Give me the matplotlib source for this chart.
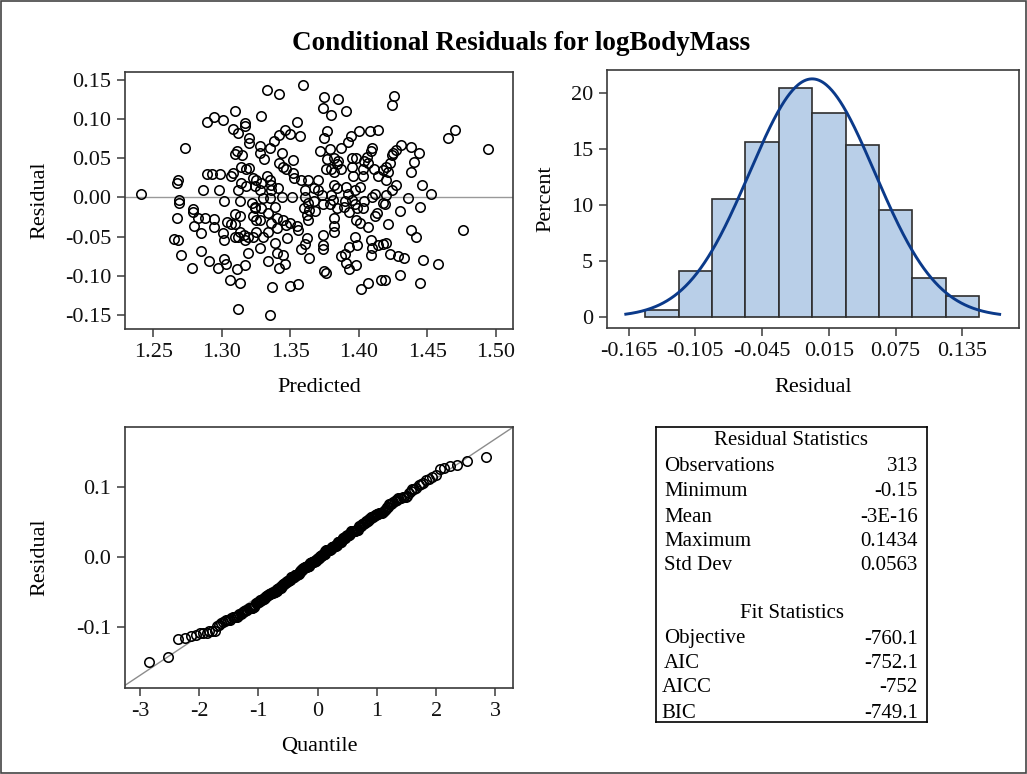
import numpy as np
import matplotlib
matplotlib.use("Agg")
import matplotlib.pyplot as plt
from matplotlib.patches import Rectangle
from statistics import NormalDist

# ---------------- data ----------------
predicted = [
    1.310, 1.294, 1.289, 1.301, 1.317, 1.317, 1.308, 1.312, 1.320, 1.320,
    1.273, 1.311, 1.310, 1.315, 1.314, 1.318, 1.320, 1.289, 1.293, 1.299,
    1.308, 1.307, 1.268, 1.267, 1.323, 1.314, 1.318, 1.324, 1.286, 1.298,
    1.312, 1.241,
    1.269, 1.269, 1.302, 1.313, 1.322, 1.279, 1.279, 1.267, 1.283, 1.288,
    1.294, 1.310, 1.313, 1.324, 1.323, 1.325, 1.304, 1.307, 1.310, 1.280,
    1.294, 1.285, 1.301, 1.313, 1.316, 1.310, 1.312, 1.317, 1.319, 1.323,
    1.325, 1.302, 1.265, 1.268, 1.328, 1.270, 1.285, 1.319, 1.291, 1.302,
    1.303, 1.297, 1.311, 1.317, 1.278, 1.306, 1.313, 1.312,
    1.359, 1.333, 1.342, 1.375, 1.385, 1.374, 1.380, 1.391, 1.329, 1.355,
    1.346, 1.342, 1.350, 1.357, 1.338, 1.335, 1.328, 1.328, 1.331, 1.377,
    1.375, 1.400, 1.408, 1.414, 1.394, 1.392, 1.372, 1.379, 1.387, 1.410,
    1.409, 1.344, 1.352, 1.342, 1.345, 1.347, 1.377, 1.382, 1.385, 1.376,
    1.380, 1.384, 1.382, 1.387, 1.395, 1.398, 1.406, 1.404, 1.407, 1.403,
    1.395, 1.396, 1.403, 1.411, 1.414, 1.418, 1.420, 1.333, 1.335, 1.329,
    1.336, 1.325, 1.352, 1.353, 1.358, 1.363, 1.370, 1.361, 1.367, 1.370,
    1.373, 1.380, 1.382, 1.384, 1.391, 1.392, 1.397, 1.401, 1.412, 1.420,
    1.328, 1.336, 1.341, 1.344, 1.351, 1.330, 1.335,
    1.361, 1.363, 1.367, 1.360, 1.364, 1.368, 1.362, 1.363, 1.374, 1.379,
    1.381, 1.384, 1.389, 1.390, 1.395, 1.393, 1.397, 1.399, 1.403, 1.404,
    1.410, 1.413, 1.412, 1.418, 1.324, 1.329, 1.328, 1.334, 1.339, 1.340,
    1.336, 1.345, 1.347, 1.350, 1.355, 1.356, 1.330, 1.334, 1.340, 1.348,
    1.362, 1.374, 1.382, 1.382, 1.382, 1.398, 1.401, 1.407, 1.397, 1.409,
    1.339, 1.340, 1.345, 1.358, 1.361, 1.364, 1.374, 1.374, 1.387, 1.390,
    1.393, 1.399, 1.410, 1.414, 1.418, 1.409, 1.334, 1.342, 1.346, 1.375,
    1.376, 1.391, 1.398, 1.393, 1.337, 1.350, 1.356, 1.402, 1.407, 1.416,
    1.335,
    1.426, 1.424, 1.465, 1.470, 1.494, 1.431, 1.427, 1.425, 1.424, 1.438,
    1.444, 1.440, 1.438, 1.423, 1.421, 1.420, 1.427, 1.424, 1.446, 1.453,
    1.436,
    1.419, 1.430, 1.445, 1.421, 1.438, 1.442, 1.476, 1.420, 1.423, 1.429,
    1.433, 1.447, 1.458, 1.419, 1.430, 1.445,
]
residual = [
    0.110, 0.103, 0.097, 0.099, 0.095, 0.091, 0.088, 0.082, 0.076, 0.069,
    0.063, 0.059, 0.055, 0.054, 0.039, 0.037, 0.038, 0.030, 0.030, 0.030,
    0.031, 0.028, 0.022, 0.018, 0.025, 0.018, 0.015, 0.015, 0.010, 0.010,
    0.009, 0.005,
    -0.003, -0.007, -0.004, -0.005, -0.007, -0.015, -0.018, -0.026, -0.026, -0.026,
    -0.028, -0.021, -0.024, -0.014, -0.024, -0.029, -0.031, -0.034, -0.034, -0.036,
    -0.038, -0.046, -0.046, -0.044, -0.048, -0.051, -0.051, -0.054, -0.051, -0.050,
    -0.044, -0.055, -0.053, -0.055, -0.064, -0.073, -0.069, -0.071, -0.081, -0.079,
    -0.085, -0.090, -0.091, -0.086, -0.090, -0.105, -0.109, -0.142,
    0.1434, 0.137, 0.132, 0.128, 0.126, 0.115, 0.106, 0.111, 0.104, 0.097,
    0.086, 0.080, 0.081, 0.079, 0.072, 0.063, 0.066, 0.057, 0.049, 0.085,
    0.076, 0.085, 0.085, 0.086, 0.078, 0.071, 0.060, 0.062, 0.063, 0.063,
    0.060, 0.057, 0.048, 0.044, 0.039, 0.037, 0.049, 0.051, 0.047, 0.037,
    0.037, 0.043, 0.032, 0.037, 0.051, 0.050, 0.052, 0.047, 0.044, 0.037,
    0.039, 0.028, 0.028, 0.037, 0.027, 0.035, 0.039, 0.028, 0.022, 0.018,
    0.016, 0.022, 0.031, 0.025, 0.022, 0.022, 0.022, 0.010, 0.012, 0.010,
    0.003, 0.003, 0.016, 0.012, 0.014, 0.005, 0.010, 0.014, 0.005, 0.003,
    0.010, 0.010, 0.012, 0.001, 0.001, -0.001, -0.001,
    0.000, -0.007, -0.005, -0.014, -0.016, -0.017, -0.022, -0.029, -0.009, -0.009,
    -0.003, -0.014, -0.012, -0.005, -0.003, -0.018, -0.009, -0.013, -0.014, -0.005,
    0.001, -0.020, -0.024, -0.007, -0.012, -0.014, -0.029, -0.020, -0.012, -0.026,
    -0.033, -0.029, -0.035, -0.033, -0.037, -0.041, -0.050, -0.044, -0.039, -0.052,
    -0.052, -0.048, -0.044, -0.037, -0.026, -0.029, -0.033, -0.038, -0.050, -0.054,
    -0.058, -0.071, -0.073, -0.066, -0.060, -0.077, -0.061, -0.066, -0.075, -0.072,
    -0.063, -0.061, -0.064, -0.061, -0.060, -0.073, -0.081, -0.090, -0.085, -0.094,
    -0.097, -0.084, -0.087, -0.092, -0.115, -0.113, -0.111, -0.117, -0.109, -0.106,
    -0.150,
    0.130, 0.118, 0.076, 0.086, 0.062, 0.067, 0.061, 0.057, 0.054, 0.064,
    0.057, 0.045, 0.032, 0.044, 0.033, 0.022, 0.016, 0.010, 0.016, 0.005,
    -0.001,
    -0.009, -0.017, -0.012, -0.034, -0.041, -0.050, -0.041, -0.058, -0.072, -0.075,
    -0.077, -0.080, -0.085, -0.105, -0.099, -0.109,
]

bin_centers = [-0.135, -0.105, -0.075, -0.045, -0.015, 0.015, 0.045, 0.075, 0.105, 0.135]
bin_percent = [0.64, 4.15, 10.54, 15.65, 20.45, 18.21, 15.34, 9.58, 3.51, 1.92]

resid_mean = -3e-16
resid_sd = 0.0563

stat_labels = ["Observations", "Minimum", "Mean", "Maximum", "Std Dev"]
stat_values = ["313", "-0.15", "-3E-16", "0.1434", "0.0563"]
fit_labels = ["Objective", "AIC", "AICC", "BIC"]
fit_values = ["-760.1", "-752.1", "-752", "-749.1"]

# ---------------- figure ----------------
plt.rcParams['font.family'] = ['Liberation Serif', 'DejaVu Serif']
plt.rcParams['axes.unicode_minus'] = False
W, H = 1027, 774
fig = plt.figure(figsize=(W / 100, H / 100), dpi=100)

FRAME = '#3a3a3a'
TICKFS = 16
LABFS = 16


def ax_px(l, t, r, b):
    return fig.add_axes([l / W, 1 - b / H, (r - l) / W, (b - t) / H])


def style(ax):
    for s in ax.spines.values():
        s.set_color(FRAME)
        s.set_linewidth(1.2)
    ax.tick_params(direction='out', length=6, width=1.1, color=FRAME,
                   labelsize=TICKFS, pad=4, labelcolor='#111111')


fig.text(521 / W, 1 - 44 / H, "Conditional Residuals for logBodyMass",
         ha='center', va='center', fontsize=19.5, fontweight='bold')

MS = 6.8
MEW = 1.15

# --- residual vs predicted ---
ax1 = ax_px(125, 72, 513, 329)
style(ax1)
ax1.axhline(0, color='#999999', lw=1.0, zorder=1)
ax1.plot(predicted, residual, 'o', ms=MS, mfc='none', mec='black', mew=MEW, zorder=3)
ax1.set_xlim(1.2294, 1.5126)
ax1.set_ylim(-0.1682, 0.1604)
xt = np.round(np.arange(1.25, 1.5001, 0.05), 2)
ax1.set_xticks(xt)
ax1.set_xticklabels([f"{v:.2f}" for v in xt])
yt = np.round(np.arange(-0.15, 0.1501, 0.05), 2)
ax1.set_yticks(yt)
ax1.set_yticklabels([f"{v:.2f}".replace("-0.00", "0.00") for v in yt])
ax1.set_xlabel("Predicted", fontsize=LABFS, va='center')
ax1.xaxis.set_label_coords(0.5, (329 - 388) / (329 - 72))
ax1.set_ylabel("Residual", fontsize=LABFS, va='center')
ax1.yaxis.set_label_coords((40 - 125) / (513 - 125), 0.5)

# --- histogram ---
ax2 = ax_px(607, 70, 1019, 328)
style(ax2)
bw = bin_centers[1] - bin_centers[0]
ax2.bar(bin_centers, bin_percent, width=bw, color='#B9CFE8', edgecolor='#2e2e2e',
        linewidth=1.2, zorder=2)
xs = np.linspace(-0.1675, 0.1685, 400)
nd = NormalDist(resid_mean, resid_sd)
ys = np.array([nd.pdf(v) for v in xs]) * bw * 100
ax2.plot(xs, ys, color='#0B3A8A', lw=2.1, zorder=3)
ax2.set_xlim(-0.1844, 0.1859)
ax2.set_ylim(-0.98, 22.05)
ht = [-0.165, -0.105, -0.045, 0.015, 0.075, 0.135]
ax2.set_xticks(ht)
ax2.set_xticklabels([f"{v:.3f}" for v in ht])
ax2.set_yticks([0, 5, 10, 15, 20])
ax2.set_xlabel("Residual", fontsize=LABFS, va='center')
ax2.xaxis.set_label_coords(0.5, (328 - 388) / (328 - 70))
ax2.set_ylabel("Percent", fontsize=LABFS, va='center')
ax2.yaxis.set_label_coords((546 - 607) / (1019 - 607), 0.5)

# --- QQ plot ---
ax3 = ax_px(125, 427, 513, 688)
style(ax3)
r_sorted = np.sort(np.array(residual))
n = len(r_sorted)
std_norm = NormalDist()
quant = [std_norm.inv_cdf((i - 0.375) / (n + 0.25)) for i in range(1, n + 1)]
ax3.axline((0, resid_mean), slope=resid_sd, color='#8c8c8c', lw=1.0, zorder=1)
ax3.plot(quant, r_sorted, 'o', ms=MS, mfc='none', mec='black', mew=MEW, zorder=3)
ax3.set_xlim(-3.254, 3.299)
ax3.set_ylim(-0.187, 0.186)
ax3.set_xticks([-3, -2, -1, 0, 1, 2, 3])
ax3.set_yticks([-0.1, 0.0, 0.1])
ax3.set_yticklabels(["-0.1", "0.0", "0.1"])
ax3.set_xlabel("Quantile", fontsize=LABFS, va='center')
ax3.xaxis.set_label_coords(0.5, (688 - 746) / (688 - 427))
ax3.set_ylabel("Residual", fontsize=LABFS, va='center')
ax3.yaxis.set_label_coords((40 - 125) / (513 - 125), 0.5)

# --- statistics table ---
tl, tt, tr, tb = 656, 427, 927, 722
ax4 = ax_px(tl, tt, tr, tb)
ax4.set_xlim(0, 1)
ax4.set_ylim(0, 1)
ax4.set_xticks([])
ax4.set_yticks([])
for s in ax4.spines.values():
    s.set_color('black')
    s.set_linewidth(1.2)


def fx(px):
    return (px - tl) / (tr - tl)


def fy(py):
    return (tb - py) / (tb - tt)


TFS = 15
ax4.text(0.5, fy(441), "Residual Statistics", ha='center', va='center', fontsize=TFS)
for lab, val, py in zip(stat_labels, stat_values, [467, 492, 517, 541, 565]):
    ax4.text(fx(664), fy(py), lab, ha='left', va='center', fontsize=TFS)
    ax4.text(fx(918), fy(py), val, ha='right', va='center', fontsize=TFS)
ax4.text(0.5, fy(614), "Fit Statistics", ha='center', va='center', fontsize=TFS)
for lab, val, py, lx in zip(fit_labels, fit_values, [639, 664, 688, 713], [664, 664, 662, 661]):
    ax4.text(fx(lx), fy(py), lab, ha='left', va='center', fontsize=TFS)
    ax4.text(fx(918), fy(py), val, ha='right', va='center', fontsize=TFS)

# outer border
fig.patches.append(Rectangle((0.001, 0.001), 0.998, 0.998, transform=fig.transFigure,
                             fill=False, ec='#444444', lw=1.2))

fig.savefig("out.png", dpi=100)
